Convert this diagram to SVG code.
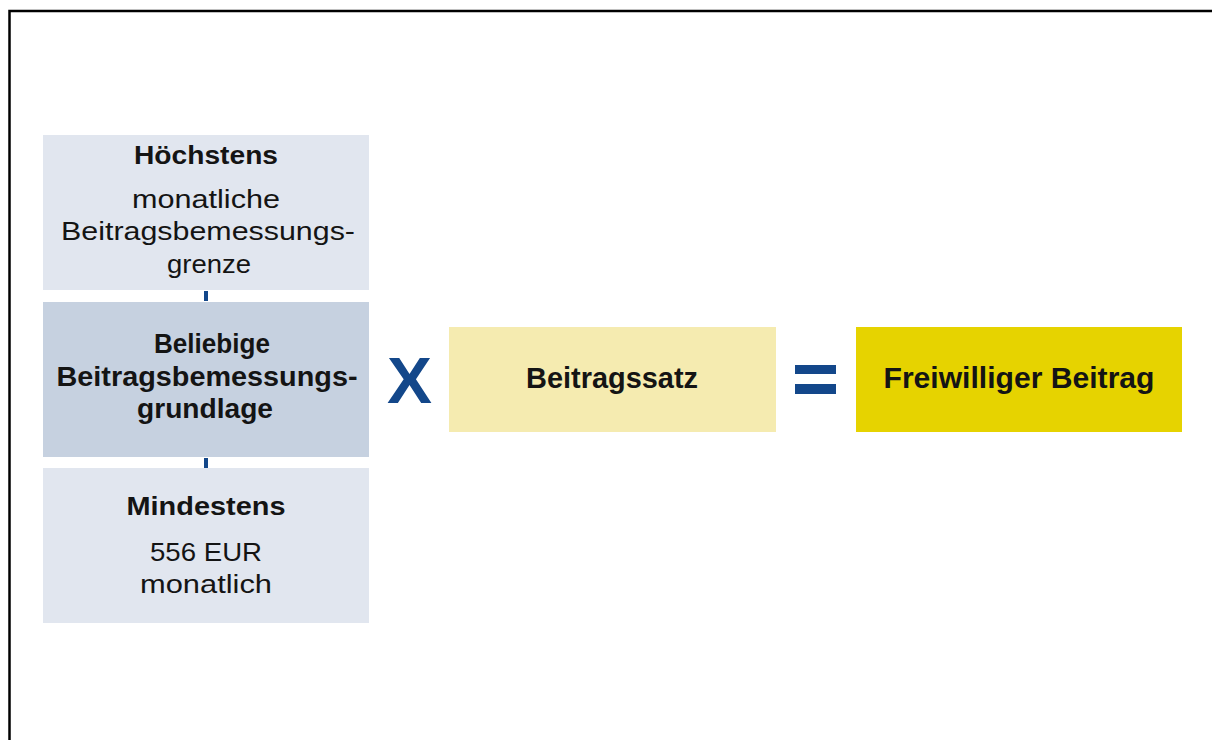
<svg xmlns="http://www.w3.org/2000/svg" width="1212" height="740" viewBox="0 0 1212 740">
<style>
.t{font-family:"Liberation Sans",Arial,sans-serif;fill:#141414;text-anchor:middle}
.b{font-weight:bold}
.l{font-size:26px}
.m{font-size:27px}
.r{font-size:29px}
.lite{fill:#e1e6ef}
.mid{fill:#c6d1e0}
.blue{fill:#13478a}
.tick{stroke:#13478a;stroke-width:4}
</style>
<rect x="0" y="0" width="1212" height="740" fill="#ffffff"/>
<path d="M9.5,740 V11 H1212" fill="none" stroke="#000" stroke-width="2.5"/>
<g id="connectors">
<line class="tick" x1="206" y1="291" x2="206" y2="301"/>
<line class="tick" x1="206" y1="458" x2="206" y2="468"/>
</g>
<g id="hoechstens">
<rect class="lite" x="43" y="135" width="326" height="155"/>
<text class="t b l" x="206" y="164" textLength="144" lengthAdjust="spacingAndGlyphs">Höchstens</text>
<text class="t l" x="206" y="208" textLength="148" lengthAdjust="spacingAndGlyphs">monatliche</text>
<text class="t l" x="208" y="240" textLength="294" lengthAdjust="spacingAndGlyphs">Beitragsbemessungs-</text>
<text class="t l" x="209" y="273" textLength="84" lengthAdjust="spacingAndGlyphs">grenze</text>
</g>
<g id="beliebige">
<rect class="mid" x="43" y="302" width="326" height="155"/>
<text class="t b m" x="212" y="353" textLength="116" lengthAdjust="spacingAndGlyphs">Beliebige</text>
<text class="t b m" x="207" y="386" textLength="301" lengthAdjust="spacingAndGlyphs">Beitragsbemessungs-</text>
<text class="t b m" x="205" y="418" textLength="136" lengthAdjust="spacingAndGlyphs">grundlage</text>
</g>
<g id="mindestens">
<rect class="lite" x="43" y="468" width="326" height="155"/>
<text class="t b l" x="206" y="515" textLength="159" lengthAdjust="spacingAndGlyphs">Mindestens</text>
<text class="t l" x="206" y="561" textLength="112" lengthAdjust="spacingAndGlyphs">556 EUR</text>
<text class="t l" x="206" y="593" textLength="132" lengthAdjust="spacingAndGlyphs">monatlich</text>
</g>
<g id="mal">
<text x="409.5" y="403" font-family="'Liberation Sans',Arial,sans-serif" font-weight="bold" font-size="65" text-anchor="middle" class="blue" textLength="45" lengthAdjust="spacingAndGlyphs">X</text>
</g>
<g id="beitragssatz">
<rect x="449" y="327" width="327" height="105" fill="#f5ebb0"/>
<text class="t b r" x="612" y="388" textLength="172" lengthAdjust="spacingAndGlyphs">Beitragssatz</text>
</g>
<g id="gleich">
<rect class="blue" x="795" y="365" width="41" height="9"/>
<rect class="blue" x="795" y="384" width="41" height="10"/>
</g>
<g id="freiwilliger">
<rect x="856" y="327" width="326" height="105" fill="#e6d300"/>
<text class="t b r" x="1019" y="388" textLength="271" lengthAdjust="spacingAndGlyphs">Freiwilliger Beitrag</text>
</g>
</svg>
